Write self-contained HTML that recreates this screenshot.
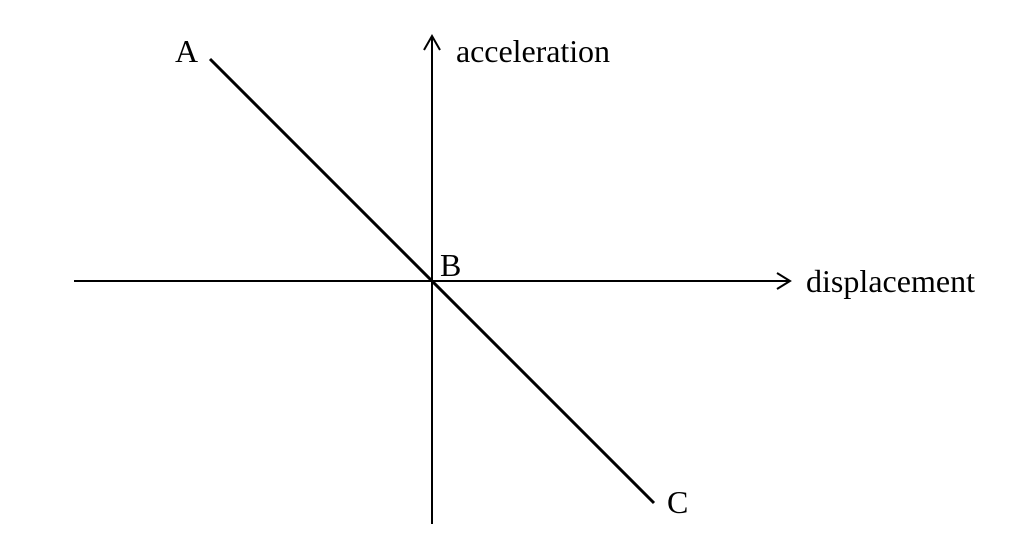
<!DOCTYPE html>
<html><head><style>
html,body{margin:0;padding:0;background:#fff;width:1022px;height:559px;overflow:hidden}
text{font-family:"Liberation Serif",serif;font-size:32px;fill:#000}
</style></head><body>
<svg width="1022" height="559" xmlns="http://www.w3.org/2000/svg">
<line x1="74" y1="281" x2="790" y2="281" stroke="#000" stroke-width="2"/>
<polyline points="777,273 790,281 777,289" fill="none" stroke="#000" stroke-width="2"/>
<line x1="432" y1="524" x2="432" y2="36" stroke="#000" stroke-width="2"/>
<polyline points="424,50 432,36 440,50" fill="none" stroke="#000" stroke-width="2"/>
<line x1="210" y1="59" x2="654" y2="503" stroke="#000" stroke-width="3"/>
<text x="175" y="62">A</text>
<text x="440" y="276">B</text>
<text x="667" y="513">C</text>
<text x="456" y="62" textLength="154">acceleration</text>
<text x="806" y="292" textLength="169">displacement</text>
</svg>
</body></html>
